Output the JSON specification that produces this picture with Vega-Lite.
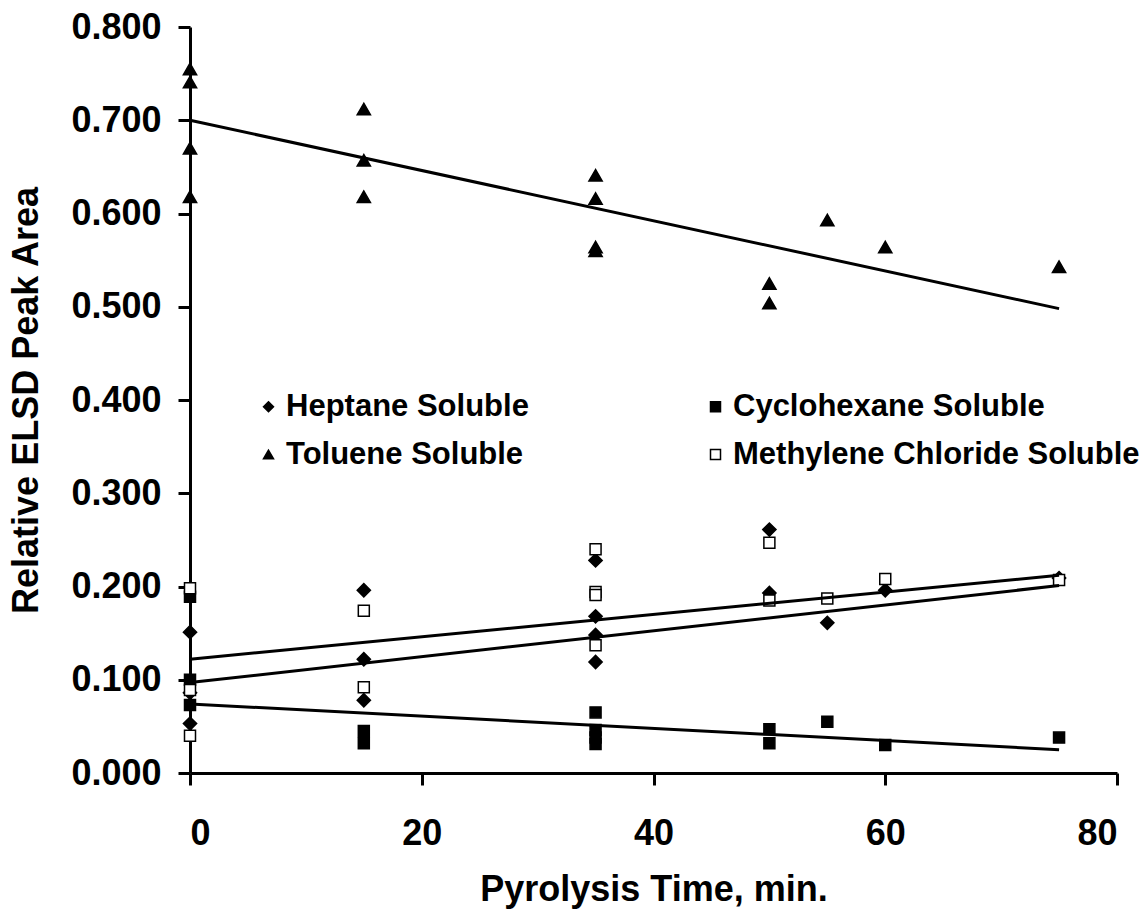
{
  "$schema": "https://vega.github.io/schema/vega-lite/v6.json",
  "width": 927,
  "height": 746,
  "autosize": "none",
  "padding": {"left": 190, "top": 27, "right": 24, "bottom": 138},
  "background": "white",
  "config": {
    "view": {"stroke": null},
    "font": "Liberation Sans",
    "axis": {
      "domainColor": "black",
      "domainWidth": 3,
      "tickColor": "black",
      "tickWidth": 3,
      "tickSize": 12,
      "grid": false,
      "labelFont": "Liberation Sans",
      "labelFontWeight": "bold",
      "labelFontSize": 36,
      "labelColor": "black",
      "titleFont": "Liberation Sans",
      "titleFontWeight": "bold",
      "titleFontSize": 36,
      "titleColor": "black"
    },
    "legend": {
      "orient": "none",
      "legendX": 63,
      "legendY": 364,
      "direction": "horizontal",
      "columns": 2,
      "padding": 0,
      "columnPadding": 171,
      "rowPadding": 16,
      "symbolSize": 100,
      "symbolStrokeColor": "black",
      "symbolStrokeWidth": 1.5,
      "symbolOpacity": 1,
      "labelFont": "Liberation Sans",
      "labelFontWeight": "bold",
      "labelFontSize": 31,
      "labelColor": "black",
      "labelOffset": 2,
      "labelLimit": 600
    }
  },
  "datasets": {
    "points": [
      {"series": "Heptane Soluble", "time": 0, "area": 0.151},
      {"series": "Heptane Soluble", "time": 0, "area": 0.053},
      {"series": "Heptane Soluble", "time": 0, "area": 0.086},
      {"series": "Heptane Soluble", "time": 15, "area": 0.196},
      {"series": "Heptane Soluble", "time": 15, "area": 0.122},
      {"series": "Heptane Soluble", "time": 15, "area": 0.078},
      {"series": "Heptane Soluble", "time": 35, "area": 0.228},
      {"series": "Heptane Soluble", "time": 35, "area": 0.168},
      {"series": "Heptane Soluble", "time": 35, "area": 0.148},
      {"series": "Heptane Soluble", "time": 35, "area": 0.119},
      {"series": "Heptane Soluble", "time": 50, "area": 0.261},
      {"series": "Heptane Soluble", "time": 50, "area": 0.193},
      {"series": "Heptane Soluble", "time": 55, "area": 0.161},
      {"series": "Heptane Soluble", "time": 60, "area": 0.196},
      {"series": "Heptane Soluble", "time": 75, "area": 0.209},
      {"series": "Cyclohexane Soluble", "time": 0, "area": 0.189},
      {"series": "Cyclohexane Soluble", "time": 0, "area": 0.100},
      {"series": "Cyclohexane Soluble", "time": 0, "area": 0.073},
      {"series": "Cyclohexane Soluble", "time": 15, "area": 0.045},
      {"series": "Cyclohexane Soluble", "time": 15, "area": 0.032},
      {"series": "Cyclohexane Soluble", "time": 35, "area": 0.065},
      {"series": "Cyclohexane Soluble", "time": 35, "area": 0.046},
      {"series": "Cyclohexane Soluble", "time": 35, "area": 0.038},
      {"series": "Cyclohexane Soluble", "time": 35, "area": 0.031},
      {"series": "Cyclohexane Soluble", "time": 50, "area": 0.047},
      {"series": "Cyclohexane Soluble", "time": 50, "area": 0.032},
      {"series": "Cyclohexane Soluble", "time": 55, "area": 0.055},
      {"series": "Cyclohexane Soluble", "time": 60, "area": 0.030},
      {"series": "Cyclohexane Soluble", "time": 75, "area": 0.038},
      {"series": "Toluene Soluble", "time": 0, "area": 0.755},
      {"series": "Toluene Soluble", "time": 0, "area": 0.741},
      {"series": "Toluene Soluble", "time": 0, "area": 0.670},
      {"series": "Toluene Soluble", "time": 0, "area": 0.618},
      {"series": "Toluene Soluble", "time": 15, "area": 0.712},
      {"series": "Toluene Soluble", "time": 15, "area": 0.657},
      {"series": "Toluene Soluble", "time": 15, "area": 0.618},
      {"series": "Toluene Soluble", "time": 35, "area": 0.641},
      {"series": "Toluene Soluble", "time": 35, "area": 0.616},
      {"series": "Toluene Soluble", "time": 35, "area": 0.564},
      {"series": "Toluene Soluble", "time": 35, "area": 0.560},
      {"series": "Toluene Soluble", "time": 50, "area": 0.525},
      {"series": "Toluene Soluble", "time": 50, "area": 0.504},
      {"series": "Toluene Soluble", "time": 55, "area": 0.593},
      {"series": "Toluene Soluble", "time": 60, "area": 0.564},
      {"series": "Toluene Soluble", "time": 75, "area": 0.543},
      {"series": "Methylene Chloride Soluble", "time": 0, "area": 0.198},
      {"series": "Methylene Chloride Soluble", "time": 0, "area": 0.089},
      {"series": "Methylene Chloride Soluble", "time": 0, "area": 0.040},
      {"series": "Methylene Chloride Soluble", "time": 15, "area": 0.174},
      {"series": "Methylene Chloride Soluble", "time": 15, "area": 0.092},
      {"series": "Methylene Chloride Soluble", "time": 35, "area": 0.240},
      {"series": "Methylene Chloride Soluble", "time": 35, "area": 0.194},
      {"series": "Methylene Chloride Soluble", "time": 35, "area": 0.191},
      {"series": "Methylene Chloride Soluble", "time": 35, "area": 0.137},
      {"series": "Methylene Chloride Soluble", "time": 50, "area": 0.247},
      {"series": "Methylene Chloride Soluble", "time": 50, "area": 0.185},
      {"series": "Methylene Chloride Soluble", "time": 55, "area": 0.187},
      {"series": "Methylene Chloride Soluble", "time": 60, "area": 0.208},
      {"series": "Methylene Chloride Soluble", "time": 75, "area": 0.207}
    ],
    "trends": [
      {"series": "Toluene Soluble", "time": 0, "area": 0.700},
      {"series": "Toluene Soluble", "time": 75, "area": 0.498},
      {"series": "Heptane Soluble", "time": 0, "area": 0.097},
      {"series": "Heptane Soluble", "time": 75, "area": 0.201},
      {"series": "Methylene Chloride Soluble", "time": 0, "area": 0.122},
      {"series": "Methylene Chloride Soluble", "time": 75, "area": 0.212},
      {"series": "Cyclohexane Soluble", "time": 0, "area": 0.074},
      {"series": "Cyclohexane Soluble", "time": 75, "area": 0.025}
    ]
  },
  "encoding": {
    "x": {
      "field": "time",
      "type": "quantitative",
      "scale": {"domain": [0, 80], "nice": false, "zero": false},
      "axis": {
        "values": [0, 20, 40, 60, 80],
        "format": "d",
        "labelPadding": 31,
        "title": "Pyrolysis Time, min.",
        "titleY": 116,
        "titleBaseline": "middle"
      }
    },
    "y": {
      "field": "area",
      "type": "quantitative",
      "scale": {"domain": [0, 0.8], "nice": false},
      "axis": {
        "values": [0, 0.1, 0.2, 0.3, 0.4, 0.5, 0.6, 0.7, 0.8],
        "format": ".3f",
        "labelPadding": 17,
        "title": "Relative ELSD Peak Area",
        "titleX": -164,
        "titleY": 373,
        "titleAngle": -90,
        "titleAlign": "center",
        "titleBaseline": "middle"
      }
    }
  },
  "layer": [
    {
      "data": {"name": "points"},
      "transform": [
        {"filter": {"field": "series", "oneOf": ["Heptane Soluble", "Toluene Soluble"]}}
      ],
      "mark": {"type": "point", "filled": true, "stroke": "black", "strokeWidth": 1.5, "opacity": 1, "size": 175},
      "encoding": {
        "shape": {
          "field": "series",
          "type": "nominal",
          "scale": {
            "domain": ["Heptane Soluble", "Cyclohexane Soluble", "Toluene Soluble", "Methylene Chloride Soluble"],
            "range": ["diamond", "square", "triangle-up", "square"]
          },
          "legend": {
            "title": null,
            "encode": {"symbols": {"update": {"stroke": {"value": "black"}, "strokeWidth": {"value": 1.5}}}}
          }
        },
        "fill": {
          "field": "series",
          "type": "nominal",
          "scale": {
            "domain": ["Heptane Soluble", "Cyclohexane Soluble", "Toluene Soluble", "Methylene Chloride Soluble"],
            "range": ["black", "black", "black", "white"]
          },
          "legend": {
            "title": null,
            "encode": {"symbols": {"update": {"stroke": {"value": "black"}, "strokeWidth": {"value": 1.5}}}}
          }
        }
      }
    },
    {
      "data": {"name": "points"},
      "transform": [
        {"filter": {"field": "series", "oneOf": ["Cyclohexane Soluble", "Methylene Chloride Soluble"]}}
      ],
      "mark": {"type": "point", "filled": true, "stroke": "black", "strokeWidth": 1.5, "opacity": 1, "size": 121},
      "encoding": {
        "shape": {
          "field": "series",
          "type": "nominal",
          "scale": {
            "domain": ["Heptane Soluble", "Cyclohexane Soluble", "Toluene Soluble", "Methylene Chloride Soluble"],
            "range": ["diamond", "square", "triangle-up", "square"]
          },
          "legend": {
            "title": null,
            "encode": {"symbols": {"update": {"stroke": {"value": "black"}, "strokeWidth": {"value": 1.5}}}}
          }
        },
        "fill": {
          "field": "series",
          "type": "nominal",
          "scale": {
            "domain": ["Heptane Soluble", "Cyclohexane Soluble", "Toluene Soluble", "Methylene Chloride Soluble"],
            "range": ["black", "black", "black", "white"]
          },
          "legend": {
            "title": null,
            "encode": {"symbols": {"update": {"stroke": {"value": "black"}, "strokeWidth": {"value": 1.5}}}}
          }
        }
      }
    },
    {
      "data": {"name": "trends"},
      "mark": {"type": "line", "color": "black", "strokeWidth": 3},
      "encoding": {
        "detail": {"field": "series", "type": "nominal"}
      }
    }
  ]
}
